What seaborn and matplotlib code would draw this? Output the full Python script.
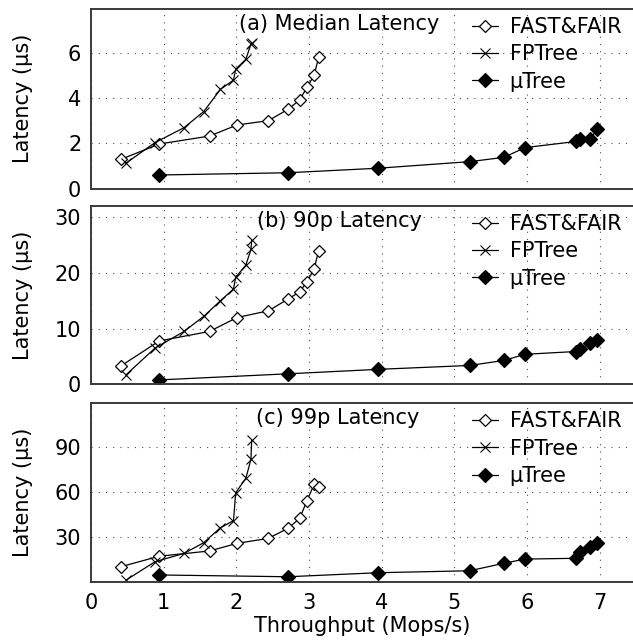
import matplotlib
matplotlib.use("Agg")
import matplotlib.pyplot as plt
from matplotlib.ticker import MultipleLocator, FixedLocator
import seaborn as sns
import pandas as pd

# ---------------- data ----------------
series = ["FAST&FAIR", "FPTree", "\u03bcTree"]
x_ff = [0.41, 0.94, 1.63, 2.01, 2.44, 2.71, 2.87, 2.97, 3.07, 3.13]
x_fp = [0.48, 0.88, 1.28, 1.55, 1.78, 1.96, 1.99, 2.13, 2.20, 2.21]
x_mu = [0.93, 2.71, 3.95, 5.21, 5.68, 5.97, 6.67, 6.72, 6.87, 6.96]

med_ff = [1.29, 1.97, 2.32, 2.81, 3.00, 3.50, 3.91, 4.47, 5.00, 5.80]
med_fp = [1.12, 2.03, 2.69, 3.40, 4.38, 4.79, 5.27, 5.71, 6.38, 6.45]
med_mu = [0.60, 0.70, 0.90, 1.19, 1.38, 1.81, 2.08, 2.17, 2.19, 2.62]

p90_ff = [3.3, 7.8, 9.5, 12.0, 13.2, 15.3, 16.6, 18.4, 20.7, 24.0]
p90_fp = [1.7, 6.5, 9.5, 12.2, 15.0, 17.1, 19.2, 21.4, 24.2, 25.9]
p90_mu = [0.8, 1.9, 2.7, 3.4, 4.3, 5.4, 5.9, 6.3, 7.4, 7.9]

p99_ff = [10.0, 17.0, 20.5, 25.6, 28.9, 35.6, 42.2, 54.0, 65.0, 63.0]
p99_fp = [1.0, 13.3, 18.9, 26.0, 36.0, 40.7, 59.3, 69.0, 81.6, 94.5]
p99_mu = [4.5, 3.3, 6.0, 7.3, 12.3, 15.1, 15.6, 20.0, 23.3, 26.0]

panel_titles = ["(a) Median Latency", "(b) 90p Latency", "(c) 99p Latency"]
ylims = [7.93, 32.0, 119.0]
ymajor = [[0, 2, 4, 6], [0, 10, 20, 30], [30, 60, 90]]
yminor = [[1, 3, 5, 7], [5, 15, 25], [15, 45, 75, 105]]
xticks = [0, 1, 2, 3, 4, 5, 6, 7]

panels = [(med_ff, med_fp, med_mu), (p90_ff, p90_fp, p90_mu), (p99_ff, p99_fp, p99_mu)]

# ---------------- style ----------------
sns.set_style("white")
plt.rcParams["font.family"] = ["DejaVu Sans"]
plt.rcParams["font.size"] = 15
plt.rcParams["text.color"] = "black"
plt.rcParams["axes.labelcolor"] = "black"
plt.rcParams["xtick.color"] = "black"
plt.rcParams["ytick.color"] = "black"

fig = plt.figure(figsize=(6.33, 6.41), dpi=100)
W, H = 633.0, 641.0
boxes = [(9.0, 188.6), (206.0, 384.4), (403.3, 581.7)]
left_px, right_px = 91.0, 633.0
title_x_px = [239.0, 257.0, 256.0]
spine_c = "#3a3a3a"
FS = 15

styles = [
    dict(marker="D", ms=6.6, mfc="white", mec="black", mew=0.9),
    dict(marker="x", ms=7.2, mec="black", mew=0.8),
    dict(marker="D", ms=7.0, mfc="black", mec="black", mew=0.9),
]
xs = [x_ff, x_fp, x_mu]

for i, (top, bot) in enumerate(boxes):
    ax = fig.add_axes([left_px / W, (H - bot) / H, (right_px - left_px) / W, (bot - top) / H])
    for j in range(3):
        df = pd.DataFrame({"x": xs[j], "y": panels[i][j]})
        sns.lineplot(data=df, x="x", y="y", ax=ax, sort=False, estimator=None,
                     color="black", lw=0.9, label=series[j], **styles[j])
    ax.set_xlim(0, (right_px - left_px) / 72.7)
    ax.set_ylim(0, ylims[i])
    ax.xaxis.set_major_locator(FixedLocator(xticks))
    ax.xaxis.set_minor_locator(MultipleLocator(0.5))
    ax.yaxis.set_major_locator(FixedLocator(ymajor[i]))
    ax.yaxis.set_minor_locator(FixedLocator(yminor[i]))
    ax.grid(True, which="major", color="0.3", lw=0.8, linestyle=(0, (1, 5.5)))
    ax.tick_params(axis="y", which="major", direction="in", length=11, width=1.0,
                   color=spine_c, pad=7, labelsize=FS)
    ax.tick_params(axis="y", which="minor", direction="in", length=5, width=1.0, color=spine_c)
    if i < 2:
        ax.tick_params(axis="x", which="both", length=0, labelbottom=False)
        ax.set_xlabel("")
    else:
        ax.tick_params(axis="x", which="major", direction="in", length=10, width=1.0,
                       color=spine_c, pad=8, labelsize=FS)
        ax.tick_params(axis="x", which="minor", direction="in", length=5, width=1.0, color=spine_c)
        ax.set_xlabel("Throughput (Mops/s)", fontsize=FS, labelpad=2)
    ax.set_ylabel("Latency (\u03bcs)", fontsize=FS)
    ax.yaxis.set_label_coords(-0.107, 0.5)
    for s in ["left", "bottom", "top"]:
        ax.spines[s].set_color(spine_c)
        ax.spines[s].set_linewidth(1.4)
    ax.spines["right"].set_visible(False)
    ax.text((title_x_px[i] - left_px) / (right_px - left_px), 1 - 21.0 / (bot - top),
            panel_titles[i], transform=ax.transAxes, ha="left", va="baseline", fontsize=FS)
    ax.legend(loc="upper left", bbox_to_anchor=(0.703, 1 - 8.0 / (bot - top)),
              frameon=False, fontsize=FS, handlelength=1.25, handletextpad=0.55,
              labelspacing=0.35, borderpad=0, borderaxespad=0)

fig.savefig("out.png", dpi=100)
